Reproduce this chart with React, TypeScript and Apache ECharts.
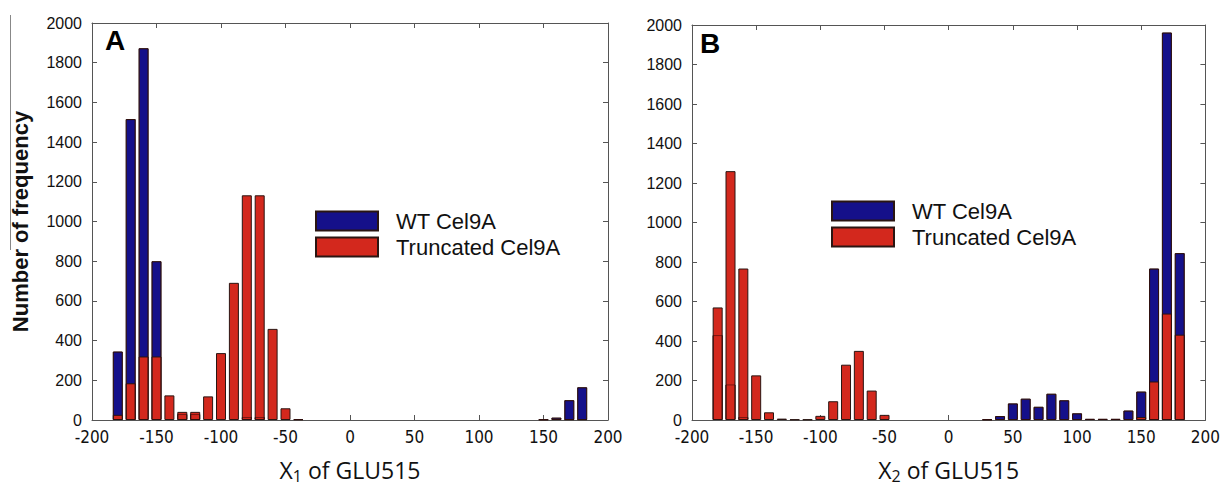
import React, { useEffect, useRef } from 'react';
import * as echarts from 'echarts';

// Bin centres (degrees)
const bins = [-180, -170, -160, -150, -140, -130, -120, -110, -100, -90, -80, -70, -60, -50, -40, -30, -20, -10, 0, 10, 20, 30, 40, 50, 60, 70, 80, 90, 100, 110, 120, 130, 140, 150, 160, 170, 180];

// Panel A (X1 of GLU515)
const wtA = [345, 1516, 1873, 800, 0, 30, 30, 0, 0, 0, 15, 15, 0, 0, 4, 0, 0, 0, 0, 0, 0, 0, 0, 0, 0, 0, 0, 0, 0, 0, 0, 0, 0, 3, 12, 100, 165];
const trA = [26, 185, 320, 320, 124, 41, 41, 119, 337, 691, 1132, 1132, 459, 59, 0, 0, 0, 0, 0, 0, 0, 0, 0, 0, 0, 0, 0, 0, 0, 0, 0, 0, 0, 0, 0, 4, 4];

// Panel B (X2 of GLU515)
const wtB = [430, 180, 15, 0, 0, 0, 0, 0, 0, 0, 0, 0, 0, 0, 0, 0, 0, 0, 0, 0, 0, 3, 20, 84, 108, 67, 133, 100, 34, 6, 6, 6, 48, 144, 767, 1962, 845];
const trB = [570, 1260, 767, 226, 39, 7, 3, 3, 21, 95, 280, 350, 149, 26, 0, 0, 0, 0, 0, 0, 0, 0, 0, 0, 0, 0, 0, 0, 0, 0, 0, 0, 0, 15, 195, 539, 432];

const seriesNames = ['WT Cel9A', 'Truncated Cel9A'];
const yAxisTitle = 'Number of frequency';
const xTitleA = 'X{s|1} of GLU515';
const xTitleB = 'X{s|2} of GLU515';
const panelLabels = ['A', 'B'];

const BLUE = '#15108a';
const RED = '#d3281d';
const EDGE = '#2a1512';
const AXIS = '#555';
const TXT = '#111';
const NARROW = "'Liberation Sans Narrow', 'DejaVu Sans Condensed', 'Arial Narrow', 'Liberation Sans', sans-serif";
const SANS = "'Liberation Sans', Arial, sans-serif";

// zero-count bins draw no bar
const pairs = (vals: number[]) => bins.map((b, i) => [b, vals[i] > 0 ? vals[i] : null]);

function xAxes(grid: number, name: string) {
  return [
    {
      type: 'value', gridIndex: grid, position: 'bottom', min: -200, max: 200, interval: 50,
      axisLine: { show: true, onZero: false, lineStyle: { color: AXIS, width: 1 } },
      axisTick: { show: true, inside: true, length: 5, lineStyle: { color: AXIS } },
      axisLabel: { margin: 8, fontSize: 17, fontFamily: NARROW, color: TXT },
      splitLine: { show: false },
      name, nameLocation: 'middle', nameGap: 36,
      nameTextStyle: {
        fontSize: 23, fontFamily: "'Open Sans', 'Liberation Sans', sans-serif", color: TXT,
        rich: { s: { fontSize: 16, fontFamily: "'Open Sans', sans-serif", color: TXT, padding: [12, 0, 0, 0] } },
      },
    },
    {
      type: 'value', gridIndex: grid, position: 'top', min: -200, max: 200, interval: 50,
      axisLine: { show: true, onZero: false, lineStyle: { color: AXIS, width: 1 } },
      axisTick: { show: true, inside: true, length: 5, lineStyle: { color: AXIS } },
      axisLabel: { show: false },
      splitLine: { show: false },
    },
  ];
}

function yAxes(grid: number, withName: boolean) {
  return [
    {
      type: 'value', gridIndex: grid, position: 'left', min: 0, max: 2000, interval: 200,
      axisLine: { show: true, onZero: false, lineStyle: { color: AXIS, width: 1 } },
      axisTick: { show: true, inside: true, length: 5, lineStyle: { color: AXIS } },
      axisLabel: { margin: 10, fontSize: 16, fontFamily: SANS, color: TXT, formatter: (v: number) => String(v) },
      splitLine: { show: false },
      ...(withName
        ? {
            name: yAxisTitle, nameLocation: 'middle', nameGap: 61,
            nameTextStyle: { fontSize: 22, fontWeight: 'bold', fontFamily: SANS, color: TXT },
          }
        : {}),
    },
    {
      type: 'value', gridIndex: grid, position: 'right', min: 0, max: 2000, interval: 200,
      axisLine: { show: true, onZero: false, lineStyle: { color: AXIS, width: 1 } },
      axisTick: { show: true, inside: true, length: 5, lineStyle: { color: AXIS } },
      axisLabel: { show: false },
      splitLine: { show: false },
    },
  ];
}

function barSeries(axisBase: number, wt: number[], tr: number[], tag: string) {
  const common = {
    type: 'bar', xAxisIndex: axisBase, yAxisIndex: axisBase, barWidth: 10, barGap: '-100%',
  };
  return [
    { ...common, name: seriesNames[0], data: pairs(wt), itemStyle: { color: BLUE, borderColor: EDGE, borderWidth: 1 } },
    { ...common, name: seriesNames[1], data: pairs(tr), itemStyle: { color: RED, borderColor: EDGE, borderWidth: 1 } },
    {
      ...common, name: 'edge' + tag, data: pairs(wt), silent: true,
      itemStyle: { color: 'rgba(0,0,0,0)', borderColor: 'rgba(50,10,10,0.55)', borderWidth: 1 },
    },
  ];
}

function legend(left: number, top: number) {
  return {
    left, top, orient: 'vertical', icon: 'rect', itemWidth: 62, itemHeight: 19, itemGap: 4,
    data: seriesNames, selectedMode: false,
    textStyle: { fontSize: 22, fontFamily: SANS, color: TXT, lineHeight: 19, padding: [0, 0, 0, 13] },
  };
}

export default function App() {
  const ref = useRef<HTMLDivElement>(null);
  useEffect(() => {
    if (!ref.current) return;
    const chart = echarts.init(ref.current, undefined, { renderer: 'svg' });
    chart.setOption({
      animation: false,
      backgroundColor: '#fff',
      grid: [
        { left: 92, top: 23, width: 516, height: 408 },
        { left: 692, top: 25, width: 516, height: 407 },
      ],
      xAxis: [...xAxes(0, xTitleA), ...xAxes(1, xTitleB)],
      yAxis: [...yAxes(0, true), ...yAxes(1, false)],
      series: [
        ...barSeries(0, wtA, trA, 'A'),
        ...barSeries(2, wtB, trB, 'B'),
      ],
      legend: [legend(310, 205), legend(826, 195)],
      title: [
        { text: panelLabels[0], left: 105, top: 26, padding: 0, textStyle: { fontSize: 28, fontWeight: 'bold', fontFamily: SANS, color: '#000' } },
        { text: panelLabels[1], left: 700, top: 29, padding: 0, textStyle: { fontSize: 28, fontWeight: 'bold', fontFamily: SANS, color: '#000' } },
      ],
      graphic: [
        { type: 'line', silent: true, shape: { x1: 10.5, y1: 15, x2: 10.5, y2: 250 }, style: { stroke: '#888', lineWidth: 1 } },
      ],
    });
    return () => chart.dispose();
  }, []);
  return <div ref={ref} style={{ position: 'fixed', left: 0, top: 0, width: 1223, height: 489, background: '#fff' }} />;
}
